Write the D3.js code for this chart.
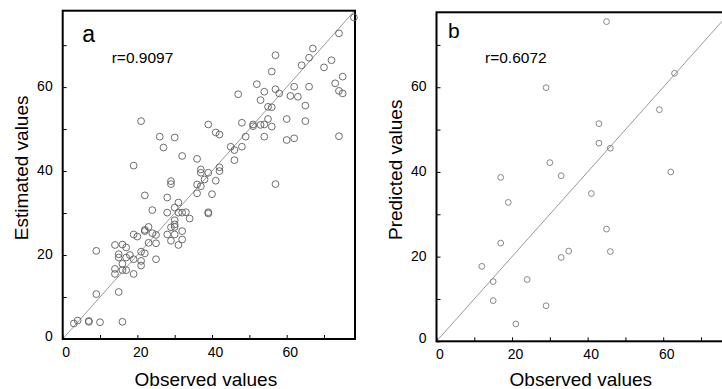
<!DOCTYPE html>
<html>
<head>
<meta charset="utf-8">
<script src="https://cdn.jsdelivr.net/npm/d3@7"></script>
<style>
  body { margin: 0; background: #fff; }
  svg text { font-family: "Liberation Sans", Arial, Helvetica, sans-serif; fill: #000; }
</style>
</head>
<body>
<svg id="chart" width="722" height="389"></svg>
<script>
// Panel a: observed vs. estimated values (calibration set)
const observedA = [
  78, 74, 67, 57, 66, 64, 72, 70, 56, 75,
  52, 73, 66, 62, 57, 54, 74, 75, 58, 47,
  61, 63, 53, 55, 56, 65, 55, 60, 65, 54,
  48, 51, 53, 51, 56, 39, 21, 41, 42, 49,
  54, 62, 60, 74, 26, 30, 27, 45, 46, 48,
  46, 32, 36, 19, 42, 42, 37, 37, 39, 38,
  41, 29, 29, 36, 37, 57, 40, 36, 22, 28,
  31, 24, 30, 28, 31, 33, 32, 39, 39, 34,
  30, 30, 30, 29, 23, 22, 22, 19, 24, 32,
  28, 25, 20, 30, 32, 29, 23, 25, 31, 14,
  16, 17, 9, 21, 15, 22, 18, 15, 17, 19,
  25, 21, 16, 21, 14, 16, 17, 14, 19, 9,
  15, 3, 4, 7, 7, 10, 16
];
const estimatedA = [
  76.6, 72.8, 69.2, 67.6, 67.0, 65.2, 66.4, 64.7, 63.7, 62.5,
  60.7, 60.9, 60.1, 60.1, 59.5, 58.9, 59.1, 58.5, 58.5, 58.3,
  57.9, 57.7, 56.9, 55.3, 55.2, 55.6, 52.4, 52.4, 51.9, 51.1,
  51.5, 51.1, 51.0, 50.7, 50.6, 51.1, 51.9, 49.2, 48.7, 48.2,
  48.2, 47.8, 47.4, 48.3, 48.2, 48.0, 45.6, 45.8, 45.0, 45.8,
  42.6, 43.6, 42.9, 41.3, 40.9, 40.0, 40.4, 39.6, 39.6, 38.0,
  37.7, 37.6, 36.9, 36.8, 36.4, 36.9, 34.5, 34.7, 34.2, 33.7,
  32.5, 30.7, 31.3, 30.1, 30.1, 30.2, 30.1, 30.2, 29.9, 28.7,
  28.3, 27.3, 26.7, 26.6, 26.7, 25.7, 26.0, 24.9, 25.2, 25.7,
  24.9, 24.8, 24.4, 24.9, 23.7, 23.4, 22.9, 22.8, 22.4, 22.4,
  22.5, 21.8, 21.0, 20.8, 20.2, 20.4, 20.0, 19.4, 19.4, 19.0,
  19.0, 18.6, 17.9, 17.5, 16.7, 16.4, 16.4, 15.5, 15.5, 10.7,
  11.2, 3.7, 4.4, 4.3, 4.1, 4.0, 4.1
];

// Panel b: observed vs. predicted values (validation set)
const observedB = [
  45, 63, 29, 59, 43, 43, 46, 30, 17, 33,
  62, 41, 19, 45, 17, 35, 46, 33, 12, 15,
  24, 15, 29, 21
];
const predictedB = [
  75.5, 63.3, 59.9, 54.7, 51.4, 46.8, 45.6, 42.2, 38.7, 39.1,
  40.0, 34.9, 32.8, 26.5, 23.2, 21.3, 21.2, 19.8, 17.7, 14.1,
  14.6, 9.6, 8.4, 4.1
];

// Axis ticks every 10 units, labels on every 20
const tickValues = [0, 10, 20, 30, 40, 50, 60, 70];
const tickLabels = [0, 20, 40, 60];

const panels = [
  {
    letter: "a", stat: "r=0.9097",
    xTitle: "Observed values", yTitle: "Estimated values",
    xs: observedA, ys: estimatedA,
    left: 62.7, top: 10.7, width: 292.3, height: 328.3, xMax: 78.3, yMax: 78.2,
    radius: 3.4, pointColor: "#5e5e5e",
    letterSize: 23, letterPos: [19.5, 31], statPos: [49, 52],
    yTitleX: -35, xTitleY: 47
  },
  {
    letter: "b", stat: "r=0.6072",
    xTitle: "Observed values", yTitle: "Predicted values",
    xs: observedB, ys: predictedB,
    left: 436.5, top: 12.3, width: 294.7, height: 329, xMax: 78, yMax: 77.7,
    radius: 2.9, pointColor: "#7a7a7a",
    letterSize: 21, letterPos: [11.5, 25.4], statPos: [48.5, 50.4],
    yTitleX: -34.3, xTitleY: 44.7
  }
];

const svg = d3.select("#chart");

panels.forEach(p => {
  const g = svg.append("g").attr("transform", `translate(${p.left},${p.top})`);
  const x = d3.scaleLinear().domain([0, p.xMax]).range([0, p.width]);
  const y = d3.scaleLinear().domain([0, p.yMax]).range([p.height, 0]);
  const fmt = d => tickLabels.includes(d) ? String(d) : "";

  // 1:1 reference line
  const dMax = Math.min(p.xMax, p.yMax);
  g.append("line")
    .attr("x1", x(0)).attr("y1", y(0))
    .attr("x2", x(dMax)).attr("y2", y(dMax))
    .attr("stroke", "#7f7f7f").attr("stroke-width", 0.8);

  // bottom axis, ticks pointing inward
  const xAxis = g.append("g")
    .attr("transform", `translate(0,${p.height})`)
    .call(d3.axisBottom(x).tickValues(tickValues).tickSizeInner(-4).tickSizeOuter(0)
      .tickPadding(8).tickFormat(fmt));
  xAxis.select(".domain").remove();
  xAxis.selectAll(".tick line").attr("stroke", "#000").attr("stroke-width", 1);
  xAxis.selectAll(".tick text")
    .attr("x", 3)
    .style("font-size", "14px");

  // left axis, ticks pointing inward
  const yAxis = g.append("g")
    .call(d3.axisLeft(y).tickValues(tickValues).tickSizeInner(-4).tickSizeOuter(0)
      .tickPadding(10).tickFormat(fmt));
  yAxis.select(".domain").remove();
  yAxis.selectAll(".tick line").attr("stroke", "#000").attr("stroke-width", 1);
  yAxis.selectAll(".tick text")
    .attr("y", d => d === 0 ? -3 : -1)
    .style("font-size", "14px");

  // plot frame
  g.append("rect")
    .attr("x", 0).attr("y", 0)
    .attr("width", p.width).attr("height", p.height)
    .attr("fill", "none").attr("stroke", "#000").attr("stroke-width", 2);

  // scatter points
  g.append("g").selectAll("circle")
    .data(p.xs.map((v, i) => [v, p.ys[i]]))
    .join("circle")
    .attr("cx", d => x(d[0]))
    .attr("cy", d => y(d[1]))
    .attr("r", p.radius)
    .attr("fill", "none")
    .attr("stroke", p.pointColor)
    .attr("stroke-width", 0.9);

  // panel letter and correlation coefficient
  g.append("text")
    .attr("x", p.letterPos[0]).attr("y", p.letterPos[1])
    .style("font-size", p.letterSize + "px")
    .text(p.letter);
  g.append("text")
    .attr("x", p.statPos[0]).attr("y", p.statPos[1])
    .style("font-size", "15.5px")
    .text(p.stat);

  // axis titles
  g.append("text")
    .attr("x", p.width / 2 - 3).attr("y", p.height + p.xTitleY)
    .attr("text-anchor", "middle")
    .style("font-size", "19px")
    .text(p.xTitle);
  g.append("text")
    .attr("transform", `translate(${p.yTitleX},${p.height / 2 - 7}) rotate(-90)`)
    .attr("text-anchor", "middle")
    .style("font-size", "19px")
    .text(p.yTitle);
});
</script>
</body>
</html>
